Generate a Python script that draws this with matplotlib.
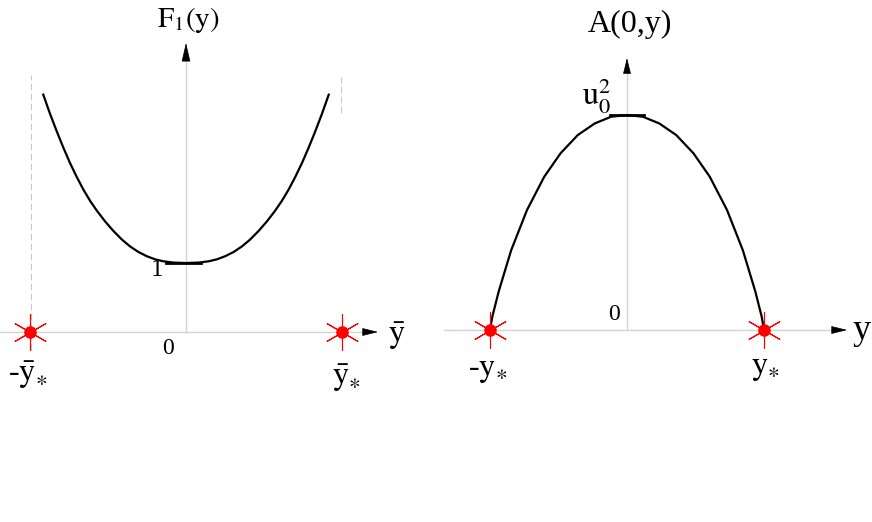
import numpy as np
import matplotlib
matplotlib.use("Agg")
from matplotlib import pyplot as plt

plt.rcParams['font.family'] = ['Liberation Serif', 'DejaVu Serif']
plt.rcParams['mathtext.fontset'] = 'stix'

half_x = [0.915, 0.872, 0.829, 0.787, 0.744, 0.701, 0.658, 0.615, 0.572, 0.519,
          0.466, 0.412, 0.359, 0.306, 0.252, 0.199, 0.146, 0.081, 0.0]
half_F = [3.44, 3.165, 2.911, 2.676, 2.452, 2.25, 2.065, 1.902, 1.76, 1.604,
          1.466, 1.342, 1.241, 1.161, 1.099, 1.054, 1.025, 1.006, 1.0]
left_x = [-v for v in half_x] + half_x[-2::-1]
left_F = half_F + half_F[-2::-1]

# right panel: A(0,y) against y (units of y_*, u0^2)
halfA_x = [1.0, 0.983, 0.937, 0.846, 0.730, 0.604, 0.485, 0.359, 0.235, 0.116, 0.0]
halfA = [0.0, 0.062, 0.178, 0.37, 0.558, 0.713, 0.822, 0.907, 0.961, 0.992, 1.0]
right_x = [-v for v in halfA_x] + halfA_x[-2::-1]
right_A = halfA + halfA[-2::-1]

star_x = [-1, 1]
left_ticklabel = "1"
right_ticklabel = r"$\mathrm{u}_0^2$"

grey = '#d4d4d4'

fig = plt.figure(figsize=(8.72, 5.22), dpi=100)
ax1 = fig.add_axes([0, 0, 0.5, 1])
ax2 = fig.add_axes([0.5, 0, 0.5, 1])
ax1.set_xlim(-1.1923, 1.6026)
ax1.set_ylim(-2.754, 4.812)
ax2.set_xlim(-1.394, 1.788)
ax2.set_ylim(-0.893, 1.535)
for ax in (ax1, ax2):
    ax.axis('off')


def arrow(ax, base, tip, hl, hw):
    ax.annotate('', xy=tip, xytext=base,
                arrowprops=dict(arrowstyle='-|>,head_length=%g,head_width=%g' % (hl, hw),
                                color='black', lw=0.5, shrinkA=0, shrinkB=0))


# ---- left
ax1.plot([-1.1923, 1.167], [0, 0], color=grey, lw=1)
ax1.plot([0, 0], [0, 3.94], color=grey, lw=1)
arrow(ax1, (1.167, 0), (1.231, 0), 1.0, 0.25)
arrow(ax1, (0, 3.94), (0, 4.19), 1.2, 0.28)
ax1.plot([-0.994, -0.994], [-0.26, 3.725], color='#c8c8c8', lw=0.8, ls=(0, (6, 3)))
ax1.plot([0.994, 0.994], [3.174, 3.696], color='#c8c8c8', lw=0.8, ls=(0, (6, 3)))
ax1.plot(left_x, left_F, color='black', lw=1.6, solid_joinstyle='round')
ax1.plot([-0.128, 0.096], [1, 1], color='black', lw=2)
ax1.plot(star_x, [0, 0], ls='none', marker=(6, 2, 0), ms=26, mew=0.8, mec='red')
ax1.plot(star_x, [0, 0], ls='none', marker='o', ms=8, color='red')

ax1.text(0.013, 4.52, r"$\mathrm{F}_1\mathrm{(y)}$", fontsize=21, ha='center', va='center')
ax1.text(-0.186, 0.9, left_ticklabel, fontsize=18, ha='center', va='center')
ax1.text(-0.115, -0.232, "0", fontsize=17, ha='center', va='center')
ax1.text(-1.013, -0.62, r"-$\bar{\mathrm{y}}_{\ast}$", fontsize=23, ha='center', va='center')
ax1.text(1.03, -0.67, r"$\bar{\mathrm{y}}_{\ast}$", fontsize=23, ha='center', va='center')
ax1.text(1.353, -0.06, r"$\bar{\mathrm{y}}$", fontsize=23, ha='center', va='center')

# ---- right
ax2.plot([-1.336, 1.518], [0, 0], color=grey, lw=1)
ax2.plot([0, 0], [0, 1.2], color=grey, lw=1)
arrow(ax2, (1.518, 0), (1.606, 0), 1.0, 0.25)
arrow(ax2, (0, 1.2), (0, 1.265), 1.0, 0.25)
ax2.plot(right_x, right_A, color='black', lw=1.6, solid_joinstyle='round')
ax2.plot([-0.124, 0.124], [1, 1], color='black', lw=2)
ax2.plot(star_x, [0, 0], ls='none', marker=(6, 2, 0), ms=26, mew=0.8, mec='red')
ax2.plot(star_x, [0, 0], ls='none', marker='o', ms=8, color='red')

ax2.text(0.022, 1.419, "A(0,y)", fontsize=23, ha='center', va='center')
ax2.text(-0.219, 1.093, right_ticklabel, fontsize=23, ha='center', va='center')
ax2.text(-0.095, 0.07, "0", fontsize=17, ha='center', va='center')
ax2.text(-1.02, -0.186, r"-$\mathrm{y}_{\ast}$", fontsize=23, ha='center', va='center')
ax2.text(1.007, -0.177, r"$\mathrm{y}_{\ast}$", fontsize=23, ha='center', va='center')
ax2.text(1.715, 0.0, "y", fontsize=26, ha='center', va='center')

fig.savefig("out.png", dpi=100)
